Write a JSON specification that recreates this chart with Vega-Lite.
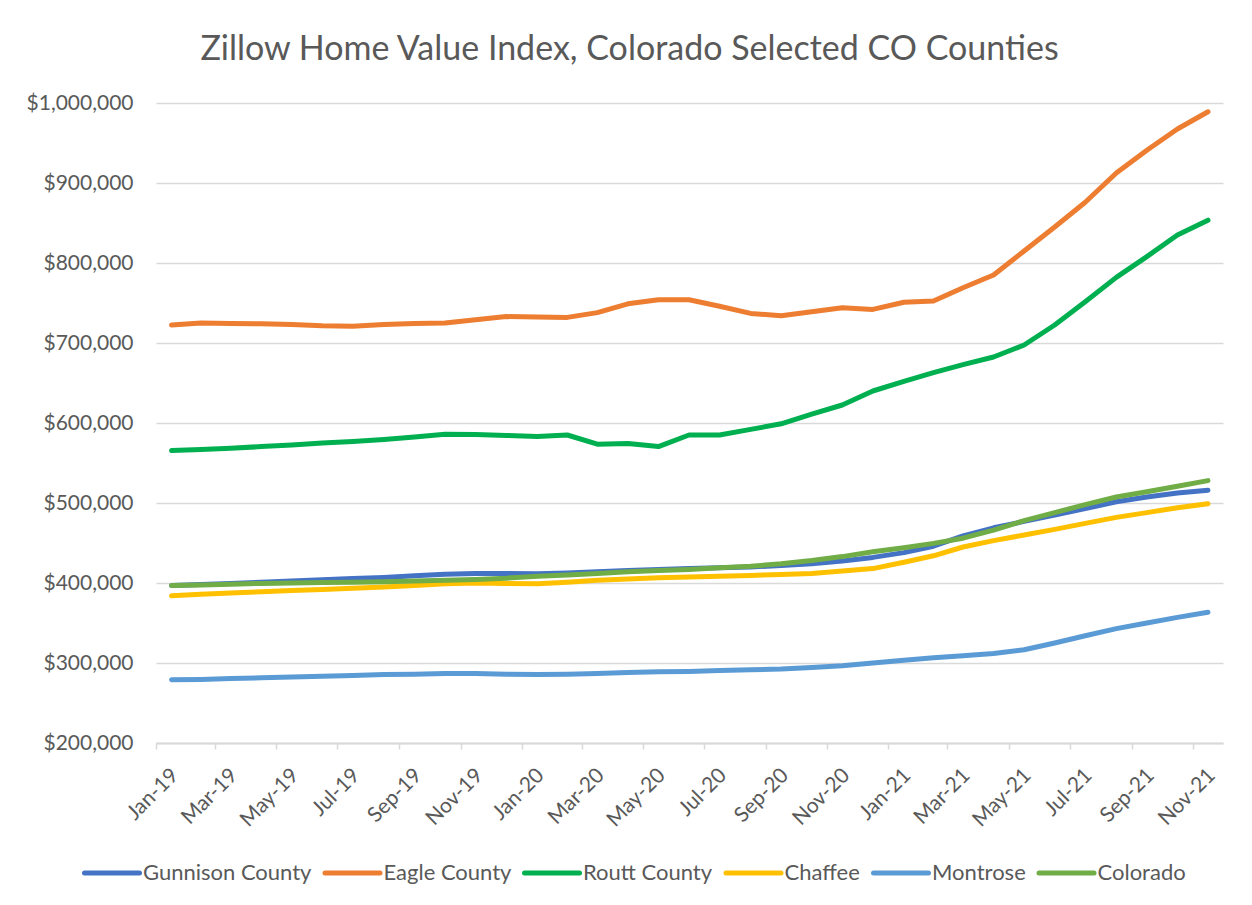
{
  "$schema": "https://vega.github.io/schema/vega-lite/v6.json",
  "width": 1067,
  "height": 640,
  "autosize": {"type": "none"},
  "padding": {"left": 156, "top": 103, "right": 29, "bottom": 162},
  "background": "white",
  "title": {
    "text": "Zillow Home Value Index, Colorado Selected CO Counties",
    "anchor": "middle",
    "frame": "group",
    "dx": -60,
    "offset": 25,
    "fontSize": 34,
    "font": "Lato",
    "fontWeight": "normal",
    "color": "#595959"
  },
  "data": {
    "values": [
      {"month": "2019-01-01", "Gunnison County": 397000, "Eagle County": 722500, "Routt County": 565500, "Chaffee": 384000, "Montrose": 279000, "Colorado": 397000},
      {"month": "2019-02-01", "Gunnison County": 398000, "Eagle County": 725000, "Routt County": 567000, "Chaffee": 386000, "Montrose": 279500, "Colorado": 397500},
      {"month": "2019-03-01", "Gunnison County": 399500, "Eagle County": 724500, "Routt County": 568500, "Chaffee": 387500, "Montrose": 280500, "Colorado": 398500},
      {"month": "2019-04-01", "Gunnison County": 401000, "Eagle County": 724000, "Routt County": 570500, "Chaffee": 389000, "Montrose": 281500, "Colorado": 399500},
      {"month": "2019-05-01", "Gunnison County": 402500, "Eagle County": 723000, "Routt County": 572500, "Chaffee": 390500, "Montrose": 282500, "Colorado": 400000},
      {"month": "2019-06-01", "Gunnison County": 404000, "Eagle County": 721500, "Routt County": 575000, "Chaffee": 392000, "Montrose": 283500, "Colorado": 400500},
      {"month": "2019-07-01", "Gunnison County": 405500, "Eagle County": 721000, "Routt County": 577000, "Chaffee": 393500, "Montrose": 284500, "Colorado": 401000},
      {"month": "2019-08-01", "Gunnison County": 407000, "Eagle County": 723000, "Routt County": 579500, "Chaffee": 395000, "Montrose": 285500, "Colorado": 401500},
      {"month": "2019-09-01", "Gunnison County": 409000, "Eagle County": 724500, "Routt County": 582500, "Chaffee": 397000, "Montrose": 286000, "Colorado": 402500},
      {"month": "2019-10-01", "Gunnison County": 411000, "Eagle County": 725000, "Routt County": 586000, "Chaffee": 399000, "Montrose": 287000, "Colorado": 403500},
      {"month": "2019-11-01", "Gunnison County": 412000, "Eagle County": 729000, "Routt County": 585500, "Chaffee": 400000, "Montrose": 287000, "Colorado": 404500},
      {"month": "2019-12-01", "Gunnison County": 412000, "Eagle County": 733000, "Routt County": 584500, "Chaffee": 399500, "Montrose": 286000, "Colorado": 406000},
      {"month": "2020-01-01", "Gunnison County": 411500, "Eagle County": 732500, "Routt County": 583000, "Chaffee": 399000, "Montrose": 285500, "Colorado": 408500},
      {"month": "2020-02-01", "Gunnison County": 412500, "Eagle County": 732000, "Routt County": 585000, "Chaffee": 401000, "Montrose": 286000, "Colorado": 410000},
      {"month": "2020-03-01", "Gunnison County": 414000, "Eagle County": 738000, "Routt County": 573500, "Chaffee": 403500, "Montrose": 287000, "Colorado": 412000},
      {"month": "2020-04-01", "Gunnison County": 415500, "Eagle County": 749000, "Routt County": 574500, "Chaffee": 405000, "Montrose": 288000, "Colorado": 414000},
      {"month": "2020-05-01", "Gunnison County": 417000, "Eagle County": 754000, "Routt County": 570500, "Chaffee": 406500, "Montrose": 289000, "Colorado": 415500},
      {"month": "2020-06-01", "Gunnison County": 418000, "Eagle County": 754000, "Routt County": 585000, "Chaffee": 407500, "Montrose": 289500, "Colorado": 417000},
      {"month": "2020-07-01", "Gunnison County": 419000, "Eagle County": 746000, "Routt County": 585000, "Chaffee": 408500, "Montrose": 290500, "Colorado": 419000},
      {"month": "2020-08-01", "Gunnison County": 420000, "Eagle County": 737000, "Routt County": 592000, "Chaffee": 409500, "Montrose": 291500, "Colorado": 421000},
      {"month": "2020-09-01", "Gunnison County": 422000, "Eagle County": 734000, "Routt County": 599000, "Chaffee": 410500, "Montrose": 292500, "Colorado": 424000},
      {"month": "2020-10-01", "Gunnison County": 424000, "Eagle County": 739000, "Routt County": 611000, "Chaffee": 412000, "Montrose": 294500, "Colorado": 428000},
      {"month": "2020-11-01", "Gunnison County": 427500, "Eagle County": 744000, "Routt County": 622500, "Chaffee": 415000, "Montrose": 296500, "Colorado": 433000},
      {"month": "2020-12-01", "Gunnison County": 432000, "Eagle County": 742000, "Routt County": 640000, "Chaffee": 418000, "Montrose": 300000, "Colorado": 439000},
      {"month": "2021-01-01", "Gunnison County": 438000, "Eagle County": 751000, "Routt County": 652000, "Chaffee": 426000, "Montrose": 303500, "Colorado": 444000},
      {"month": "2021-02-01", "Gunnison County": 446000, "Eagle County": 752500, "Routt County": 663000, "Chaffee": 434000, "Montrose": 306500, "Colorado": 449500},
      {"month": "2021-03-01", "Gunnison County": 459000, "Eagle County": 769000, "Routt County": 673000, "Chaffee": 445000, "Montrose": 309000, "Colorado": 456000},
      {"month": "2021-04-01", "Gunnison County": 469000, "Eagle County": 785000, "Routt County": 682500, "Chaffee": 453000, "Montrose": 312000, "Colorado": 466000},
      {"month": "2021-05-01", "Gunnison County": 477000, "Eagle County": 815000, "Routt County": 697500, "Chaffee": 460000, "Montrose": 316500, "Colorado": 478000},
      {"month": "2021-06-01", "Gunnison County": 485000, "Eagle County": 845000, "Routt County": 722500, "Chaffee": 467000, "Montrose": 325000, "Colorado": 488000},
      {"month": "2021-07-01", "Gunnison County": 493000, "Eagle County": 876000, "Routt County": 751500, "Chaffee": 474500, "Montrose": 334000, "Colorado": 498000},
      {"month": "2021-08-01", "Gunnison County": 501500, "Eagle County": 912500, "Routt County": 782000, "Chaffee": 482000, "Montrose": 343000, "Colorado": 507500},
      {"month": "2021-09-01", "Gunnison County": 507500, "Eagle County": 941000, "Routt County": 808000, "Chaffee": 488000, "Montrose": 350000, "Colorado": 514000},
      {"month": "2021-10-01", "Gunnison County": 512500, "Eagle County": 967500, "Routt County": 835000, "Chaffee": 494000, "Montrose": 357000, "Colorado": 521000},
      {"month": "2021-11-01", "Gunnison County": 516000, "Eagle County": 989000, "Routt County": 853500, "Chaffee": 499000, "Montrose": 363500, "Colorado": 528000}
    ]
  },
  "transform": [
    {"fold": ["Gunnison County", "Eagle County", "Routt County", "Chaffee", "Montrose", "Colorado"], "as": ["series", "value"]}
  ],
  "mark": {"type": "line", "strokeWidth": 5, "strokeCap": "round", "strokeJoin": "round"},
  "encoding": {
    "x": {
      "field": "month",
      "type": "temporal",
      "timeUnit": "utcyearmonth",
      "bandPosition": 0.5,
      "scale": {
        "type": "utc",
        "domain": [
          {"year": 2019, "month": 1, "date": 1, "utc": true},
          {"year": 2021, "month": 12, "date": 1, "utc": true}
        ]
      },
      "axis": {
        "title": null,
        "grid": false,
        "values": [
          {"year": 2019, "month": 1, "date": 1, "utc": true},
          {"year": 2019, "month": 3, "date": 1, "utc": true},
          {"year": 2019, "month": 5, "date": 1, "utc": true},
          {"year": 2019, "month": 7, "date": 1, "utc": true},
          {"year": 2019, "month": 9, "date": 1, "utc": true},
          {"year": 2019, "month": 11, "date": 1, "utc": true},
          {"year": 2020, "month": 1, "date": 1, "utc": true},
          {"year": 2020, "month": 3, "date": 1, "utc": true},
          {"year": 2020, "month": 5, "date": 1, "utc": true},
          {"year": 2020, "month": 7, "date": 1, "utc": true},
          {"year": 2020, "month": 9, "date": 1, "utc": true},
          {"year": 2020, "month": 11, "date": 1, "utc": true},
          {"year": 2021, "month": 1, "date": 1, "utc": true},
          {"year": 2021, "month": 3, "date": 1, "utc": true},
          {"year": 2021, "month": 5, "date": 1, "utc": true},
          {"year": 2021, "month": 7, "date": 1, "utc": true},
          {"year": 2021, "month": 9, "date": 1, "utc": true},
          {"year": 2021, "month": 11, "date": 1, "utc": true}
        ],
        "format": "%b-%y",
        "labelAngle": -45,
        "labelAlign": "right",
        "labelBaseline": "top",
        "labelOffset": 11,
        "labelPadding": 15,
        "labelFont": "Lato",
        "labelFontSize": 21,
        "labelColor": "#595959",
        "labelOverlap": false,
        "labelFlush": false,
        "domainColor": "#d9d9d9",
        "domainWidth": 2,
        "tickColor": "#d9d9d9",
        "tickWidth": 1.5,
        "tickSize": 6
      }
    },
    "y": {
      "field": "value",
      "type": "quantitative",
      "scale": {"domain": [200000, 1000000], "nice": false, "zero": false},
      "axis": {
        "title": null,
        "values": [200000, 300000, 400000, 500000, 600000, 700000, 800000, 900000, 1000000],
        "format": "$,.0f",
        "domain": false,
        "ticks": false,
        "labelPadding": 23,
        "labelFont": "Lato",
        "labelFontSize": 21,
        "labelColor": "#595959",
        "gridColor": "#d9d9d9",
        "gridWidth": 1.3
      }
    },
    "color": {
      "field": "series",
      "type": "nominal",
      "scale": {
        "domain": ["Gunnison County", "Eagle County", "Routt County", "Chaffee", "Montrose", "Colorado"],
        "range": ["#4472C4", "#ED7D31", "#00B050", "#FFC000", "#5B9BD5", "#70AD47"]
      },
      "legend": {
        "title": null,
        "orient": "none",
        "legendX": -74,
        "legendY": 740,
        "direction": "horizontal",
        "columns": 6,
        "symbolType": "stroke",
        "symbolSize": 3025,
        "symbolStrokeWidth": 5,
        "labelFont": "Lato",
        "labelFontSize": 22,
        "labelLimit": 400,
        "labelColor": "#595959",
        "labelOffset": 1,
        "columnPadding": 2.5,
        "padding": 0,
        "encode": {
          "symbols": {"update": {"strokeCap": {"value": "round"}}}
        }
      }
    }
  },
  "config": {
    "view": {"stroke": null}
  }
}
